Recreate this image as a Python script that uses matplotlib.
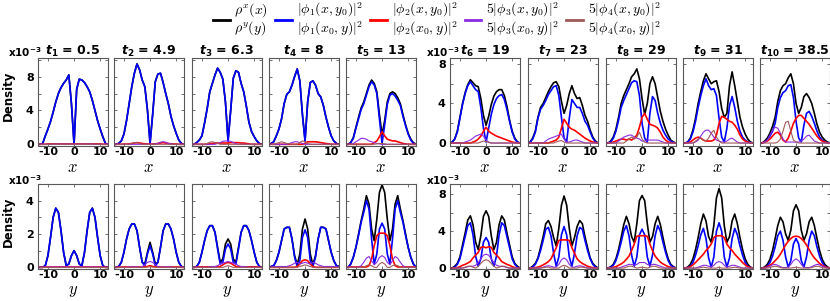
"""
Density profiles of the condensate along x and y at ten time instants,
with the contributions of the first four modes.
"""

import numpy as np
import matplotlib
matplotlib.use("Agg")
import matplotlib.pyplot as plt

plt.rcParams["mathtext.fontset"] = "cm"
plt.rcParams["font.family"] = "DejaVu Sans"


# Grid positions and time labels.
X_GRID = [-13, -12, -11, -10, -9, -8, -7, -6, -5, -4, -3, -2, -1, 0,
          1, 2, 3, 4, 5, 6, 7, 8, 9, 10, 11, 12, 13]
TIMES = ["0.5", "4.9", "6.3", "8", "13", "19", "23", "29", "31", "38.5"]

# Top row: profiles along x (units of 1e-3). Purple and brown are already x5.
RHO_X = [
    [0, 0.1, 1.0, 1.8, 2.7, 3.8, 5.0, 6.0, 6.7, 7.2, 7.6, 8.2, 4.8, 0.0, 6.5, 7.7, 7.6, 7.3, 6.8, 6.2, 5.2, 4.0, 2.8, 1.8, 0.9, 0.1, 0],
    [0, 0.1, 0.4, 1.2, 2.8, 4.8, 6.8, 8.4, 9.5, 8.8, 7.6, 6.8, 4.1, 0.2, 3.6, 7.4, 8.3, 8.4, 7.3, 6.0, 4.8, 3.3, 2.2, 1.3, 0.5, 0.1, 0],
    [0, 0.2, 0.5, 1.0, 2.5, 4.2, 6.2, 7.2, 8.2, 9.0, 8.5, 7.7, 5.0, 0.5, 4.0, 7.8, 8.7, 8.5, 7.2, 6.2, 4.5, 2.6, 1.5, 0.9, 0.4, 0.1, 0],
    [0.1, 0.3, 1.0, 1.8, 3.0, 4.8, 5.9, 6.2, 7.0, 8.0, 8.9, 7.5, 3.5, 0.5, 5.0, 7.3, 7.5, 7.0, 6.0, 5.6, 4.6, 3.2, 2.0, 1.0, 0.4, 0.1, 0],
    [0, 0.2, 0.8, 2.0, 3.2, 4.3, 5.0, 6.0, 7.0, 7.6, 7.2, 6.2, 3.5, 1.1, 2.8, 5.0, 6.0, 6.2, 6.0, 5.5, 4.8, 3.5, 2.3, 1.3, 0.6, 0.2, 0],
    [0.1, 0.4, 1.2, 2.6, 4.0, 5.1, 5.9, 6.4, 6.1, 5.8, 5.7, 4.5, 2.8, 1.8, 2.7, 3.9, 4.75, 5.2, 5.4, 5.4, 4.8, 3.7, 2.3, 1.2, 0.5, 0.1, 0],
    [0.1, 0.5, 1.2, 2.6, 3.6, 4.0, 4.6, 5.2, 5.7, 6.1, 6.2, 5.7, 4.2, 3.0, 3.8, 5.0, 5.8, 5.0, 4.5, 4.6, 3.8, 2.8, 2.2, 1.3, 0.6, 0.2, 0],
    [0, 0.2, 0.6, 1.4, 2.6, 4.0, 4.8, 5.4, 6.0, 6.7, 7.0, 7.5, 6.5, 4.5, 2.9, 4.0, 6.0, 6.7, 6.0, 4.6, 3.2, 2.2, 1.4, 0.8, 0.3, 0.1, 0],
    [0, 0.1, 0.5, 1.3, 2.5, 4.0, 5.2, 6.3, 7.0, 6.5, 6.0, 6.2, 6.3, 5.2, 3.5, 2.6, 3.0, 5.8, 7.2, 5.8, 4.2, 2.6, 1.6, 0.9, 0.4, 0.1, 0],
    [0, 0.2, 0.5, 1.0, 1.7, 2.6, 4.2, 5.3, 5.8, 6.0, 6.6, 7.0, 6.0, 4.0, 3.0, 3.6, 4.7, 5.0, 4.6, 4.0, 3.0, 1.9, 1.1, 0.6, 0.3, 0.1, 0],
]
PHI1_X = [
    [0, 0.1, 1.0, 1.8, 2.7, 3.8, 5.0, 6.0, 6.7, 7.2, 7.6, 8.2, 4.8, 0.0, 6.5, 7.7, 7.6, 7.3, 6.8, 6.2, 5.2, 4.0, 2.8, 1.8, 0.9, 0.1, 0],
    [0, 0.1, 0.4, 1.2, 2.8, 4.8, 6.8, 8.4, 9.5, 8.8, 7.6, 6.8, 4.0, 0.0, 3.5, 7.4, 8.3, 8.4, 7.3, 6.0, 4.8, 3.3, 2.2, 1.3, 0.5, 0.1, 0],
    [0, 0.2, 0.5, 1.0, 2.5, 4.2, 6.2, 7.2, 8.2, 9.0, 8.5, 7.7, 5.0, 0.3, 4.0, 7.8, 8.7, 8.5, 7.2, 6.2, 4.5, 2.6, 1.5, 0.9, 0.4, 0.1, 0],
    [0.1, 0.3, 1.0, 1.8, 3.0, 4.8, 5.9, 6.2, 7.0, 8.0, 8.9, 7.5, 3.5, 0.3, 5.0, 7.3, 7.5, 7.0, 6.0, 5.6, 4.6, 3.2, 2.0, 1.0, 0.4, 0.1, 0],
    [0, 0.2, 0.7, 1.9, 3.0, 4.1, 4.8, 5.8, 6.8, 7.4, 7.0, 6.0, 3.0, 0.1, 2.3, 4.7, 5.8, 6.0, 5.7, 5.2, 4.6, 3.3, 2.2, 1.2, 0.5, 0.1, 0],
    [0.1, 0.4, 1.1, 2.5, 3.9, 5.0, 5.8, 6.2, 5.8, 5.4, 5.2, 3.6, 1.5, 0.1, 1.5, 2.9, 3.9, 4.5, 4.8, 4.9, 4.4, 3.4, 2.2, 1.1, 0.4, 0.1, 0],
    [0.1, 0.4, 1.1, 2.5, 3.4, 3.8, 4.3, 4.9, 5.3, 5.7, 5.8, 4.8, 2.6, 0.5, 0.1, 2.5, 4.4, 4.0, 3.6, 3.6, 3.0, 2.2, 1.8, 1.1, 0.5, 0.1, 0],
    [0, 0.1, 0.5, 1.2, 2.3, 3.6, 4.3, 4.9, 5.5, 6.1, 6.3, 6.2, 4.8, 2.0, 0.5, 0.1, 3.0, 4.7, 4.3, 3.0, 2.0, 1.3, 0.8, 0.4, 0.2, 0.05, 0],
    [0, 0.1, 0.4, 1.1, 2.2, 3.6, 4.8, 5.8, 6.5, 5.8, 5.4, 5.5, 4.8, 2.5, 0.6, 0.1, 1.5, 3.8, 4.7, 3.6, 2.2, 1.2, 0.6, 0.3, 0.1, 0.05, 0],
    [0, 0.1, 0.3, 0.7, 1.2, 2.0, 3.6, 4.6, 5.1, 5.3, 5.8, 5.9, 4.6, 2.2, 0.5, 0.1, 1.8, 3.0, 3.2, 2.7, 2.0, 1.2, 0.6, 0.3, 0.1, 0.05, 0],
]
PHI2_X = [
    [0, 0, 0, 0.05, 0.05, 0.05, 0.05, 0.05, 0.05, 0.05, 0.05, 0.05, 0.05, 0.05, 0.05, 0.05, 0.05, 0.05, 0.05, 0.05, 0.05, 0.05, 0.05, 0.05, 0, 0, 0],
    [0, 0, 0, 0.03, 0.03, 0.05, 0.1, 0.15, 0.2, 0.15, 0.1, 0.05, 0.03, 0.03, 0.03, 0.05, 0.1, 0.15, 0.2, 0.15, 0.1, 0.05, 0.03, 0.03, 0, 0, 0],
    [0, 0, 0, 0, 0, 0, 0.05, 0.1, 0.15, 0.15, 0.15, 0.15, 0.15, 0.15, 0.2, 0.2, 0.2, 0.2, 0.15, 0.15, 0.1, 0.05, 0, 0, 0, 0, 0],
    [0, 0, 0, 0, 0, 0, 0, 0, 0, 0, 0, 0, 0, 0.1, 0.3, 0.3, 0.3, 0.3, 0.25, 0.2, 0.15, 0.1, 0.05, 0, 0, 0, 0],
    [0, 0, 0, 0, 0, 0, 0, 0, 0, 0, 0.2, 0.4, 0.9, 1.5, 1.0, 0.6, 0.5, 0.4, 0.4, 0.3, 0.2, 0.1, 0.05, 0, 0, 0, 0],
    [0, 0, 0, 0, 0, 0, 0, 0, 0.1, 0.2, 0.4, 0.7, 1.2, 1.6, 1.2, 1.0, 0.85, 0.7, 0.6, 0.5, 0.4, 0.3, 0.2, 0.1, 0.05, 0, 0],
    [0, 0, 0, 0, 0, 0, 0, 0, 0.1, 0.2, 0.3, 0.6, 1.5, 2.4, 2.0, 1.6, 1.4, 1.3, 1.1, 0.9, 0.7, 0.5, 0.35, 0.2, 0.1, 0.05, 0],
    [0, 0, 0.1, 0.2, 0.3, 0.4, 0.4, 0.3, 0.4, 0.3, 0.5, 0.8, 1.6, 2.6, 3.0, 2.4, 1.9, 1.8, 1.7, 1.5, 1.1, 0.6, 0.3, 0.1, 0.05, 0, 0],
    [0, 0, 0.1, 0.3, 0.5, 0.6, 0.5, 0.3, 0.2, 0.2, 0.2, 0.3, 0.8, 2.0, 2.7, 2.6, 2.4, 2.2, 2.1, 1.8, 1.4, 0.8, 0.4, 0.2, 0.1, 0, 0],
    [0, 0.1, 0.2, 0.4, 0.7, 1.0, 1.1, 0.8, 0.3, 0.1, 0.5, 1.2, 2.0, 2.5, 2.8, 2.8, 2.5, 2.2, 1.9, 1.5, 1.1, 0.7, 0.4, 0.2, 0.1, 0, 0],
]
PHI3_X = [
    [0, 0, 0, 0, 0, 0, 0.03, 0.03, 0.03, 0.03, 0.03, 0.03, 0.03, 0.03, 0.03, 0.03, 0.03, 0.03, 0.03, 0.03, 0.03, 0, 0, 0, 0, 0, 0],
    [0, 0, 0, 0, 0, 0, 0, 0, 0, 0, 0, 0, 0.02, 0.02, 0.02, 0.05, 0.1, 0.25, 0.3, 0.25, 0.1, 0.05, 0, 0, 0, 0, 0],
    [0, 0, 0, 0, 0, 0, 0, 0, 0, 0.1, 0.2, 0.35, 0.4, 0.4, 0.35, 0.2, 0.1, 0, 0, 0, 0, 0, 0, 0, 0, 0, 0],
    [0, 0, 0, 0, 0, 0, 0, 0.1, 0.2, 0.3, 0.3, 0.2, 0.1, 0, 0, 0, 0, 0, 0, 0, 0, 0, 0, 0, 0, 0, 0],
    [0, 0, 0.1, 0.3, 0.5, 0.7, 0.7, 0.6, 0.4, 0.3, 0.2, 0.1, 0.05, 0, 0, 0, 0, 0, 0, 0, 0, 0, 0, 0, 0, 0, 0],
    [0, 0, 0, 0, 0, 0.1, 0.2, 0.3, 0.5, 0.7, 0.8, 0.9, 0.7, 0.3, 0.1, 0, 0, 0, 0, 0, 0, 0, 0, 0, 0, 0, 0],
    [0, 0, 0, 0, 0, 0, 0.2, 0.4, 0.5, 0.6, 0.7, 0.8, 0.9, 0.4, 0.1, 0.1, 0.2, 0.3, 0.3, 0.2, 0.1, 0, 0, 0, 0, 0, 0],
    [0, 0, 0, 0, 0.2, 0.4, 0.6, 0.7, 0.8, 0.8, 0.6, 0.5, 0.4, 0.2, 0.2, 0.3, 0.3, 0.3, 0.3, 0.3, 0.2, 0.1, 0, 0, 0, 0, 0],
    [0, 0, 0, 0, 0.1, 0.3, 0.7, 1.1, 1.3, 1.3, 1.0, 0.6, 0.3, 0.2, 0.1, 0.1, 0.2, 0.4, 0.5, 0.3, 0.1, 0, 0, 0, 0, 0, 0],
    [0, 0.1, 0.3, 0.8, 1.3, 1.6, 1.5, 1.0, 0.4, 0.1, 0.1, 0.1, 0.1, 0.1, 0.1, 0.2, 0.4, 0.7, 0.8, 0.5, 0.2, 0.1, 0, 0, 0, 0, 0],
]
PHI4_X = [
    [0, 0, 0, 0, 0.02, 0.02, 0.02, 0.02, 0.02, 0.02, 0.02, 0.02, 0.02, 0.02, 0.02, 0.02, 0.02, 0.02, 0.02, 0.02, 0.02, 0.02, 0.02, 0, 0, 0, 0],
    [0, 0, 0, 0, 0, 0, 0.1, 0.2, 0.2, 0.1, 0, 0, 0, 0, 0, 0, 0, 0, 0, 0, 0, 0, 0, 0, 0, 0, 0],
    [0, 0, 0, 0, 0, 0.1, 0.25, 0.3, 0.2, 0.1, 0, 0, 0, 0, 0, 0, 0, 0, 0, 0, 0, 0, 0, 0, 0, 0, 0],
    [0, 0, 0.1, 0.2, 0.3, 0.2, 0.1, 0.05, 0, 0, 0, 0.2, 0.4, 0.3, 0.1, 0, 0, 0, 0, 0, 0, 0, 0, 0, 0, 0, 0],
    [0, 0, 0, 0, 0, 0, 0, 0, 0, 0, 0, 0.05, 0.1, 0.1, 0.05, 0, 0, 0, 0, 0, 0, 0, 0, 0, 0, 0, 0],
    [0, 0, 0, 0, 0, 0, 0, 0, 0, 0, 0, 0.1, 0.2, 0.15, 0.05, 0, 0, 0, 0, 0, 0, 0, 0, 0, 0, 0, 0],
    [0, 0, 0, 0, 0, 0, 0, 0, 0, 0, 0.1, 0.2, 0.25, 0.1, 0, 0, 0, 0, 0, 0, 0, 0, 0, 0, 0, 0, 0],
    [0, 0, 0, 0, 0, 0, 0, 0.2, 0.4, 0.6, 0.4, 0.6, 1.1, 0.4, 0.1, 0, 0, 0, 0, 0, 0, 0, 0, 0, 0, 0, 0],
    [0, 0, 0, 0, 0.2, 0.4, 0.5, 0.3, 0.2, 0.5, 1.0, 1.3, 0.6, 0.2, 0, 0, 0, 0, 0, 0, 0, 0, 0, 0, 0, 0, 0],
    [0, 0, 0, 0, 0, 0, 0.1, 0.4, 1.2, 2.1, 2.2, 1.2, 0.3, 0.1, 0, 0, 0, 0, 0, 0, 0, 0, 0, 0, 0, 0, 0],
]

# Bottom row: profiles along y (units of 1e-3). Purple and brown are already x5.
RHO_Y = [
    [0, 0, 0.1, 0.7, 1.8, 3.0, 3.55, 3.3, 2.2, 0.9, 0.1, 0.2, 0.7, 1.0, 0.7, 0.2, 0.1, 0.9, 2.2, 3.3, 3.55, 3.0, 1.8, 0.7, 0.1, 0, 0],
    [0, 0.05, 0.3, 0.9, 1.7, 2.3, 2.6, 2.6, 2.2, 1.2, 0.3, 0.2, 0.9, 1.5, 0.9, 0.2, 0.3, 1.2, 2.2, 2.6, 2.6, 2.3, 1.7, 0.9, 0.3, 0.05, 0],
    [0, 0.05, 0.3, 0.9, 1.6, 2.2, 2.5, 2.5, 2.1, 1.2, 0.3, 0.5, 1.4, 1.7, 1.4, 0.5, 0.3, 1.2, 2.1, 2.5, 2.5, 2.2, 1.6, 0.9, 0.3, 0.05, 0],
    [0.05, 0.1, 0.4, 0.9, 1.6, 2.3, 2.4, 2.4, 1.7, 0.7, 0.15, 0.8, 2.3, 2.9, 2.3, 0.8, 0.15, 0.7, 1.7, 2.4, 2.4, 2.3, 1.6, 0.9, 0.4, 0.1, 0.05],
    [0, 0.2, 0.6, 1.2, 2.0, 2.8, 3.5, 4.3, 3.8, 2.3, 1.6, 2.9, 4.5, 4.95, 4.5, 2.9, 1.6, 2.3, 3.8, 4.3, 3.5, 2.8, 2.0, 1.2, 0.6, 0.2, 0],
    [0, 0.2, 0.5, 1.2, 2.5, 3.8, 5.2, 5.65, 4.7, 2.8, 2.0, 3.5, 5.6, 6.2, 5.6, 3.5, 2.0, 2.8, 4.7, 5.65, 5.2, 3.8, 2.5, 1.2, 0.5, 0.2, 0],
    [0, 0.2, 0.5, 1.1, 2.2, 3.4, 4.8, 5.15, 4.5, 3.3, 2.4, 4.3, 6.8, 7.8, 6.8, 4.3, 2.4, 3.3, 4.5, 5.15, 4.8, 3.4, 2.2, 1.1, 0.5, 0.2, 0],
    [0, 0.15, 0.4, 1.0, 2.0, 3.3, 4.7, 5.6, 4.8, 3.4, 2.8, 4.8, 7.3, 7.85, 7.3, 4.8, 2.8, 3.4, 4.8, 5.6, 4.7, 3.3, 2.0, 1.0, 0.4, 0.15, 0],
    [0, 0.1, 0.4, 1.0, 2.0, 3.3, 4.8, 5.85, 5.1, 3.4, 2.8, 4.6, 7.6, 8.6, 7.6, 4.6, 2.8, 3.4, 5.1, 5.85, 4.8, 3.3, 2.0, 1.0, 0.4, 0.1, 0],
    [0, 0.12, 0.4, 0.95, 1.9, 3.2, 4.6, 5.5, 5.0, 3.7, 3.0, 4.1, 6.2, 6.85, 6.2, 4.1, 3.0, 3.7, 5.0, 5.5, 4.6, 3.2, 1.9, 0.95, 0.4, 0.12, 0],
]
PHI1_Y = [
    [0, 0, 0.1, 0.7, 1.8, 3.0, 3.55, 3.3, 2.2, 0.9, 0.1, 0.2, 0.7, 1.0, 0.7, 0.2, 0.1, 0.9, 2.2, 3.3, 3.55, 3.0, 1.8, 0.7, 0.1, 0, 0],
    [0, 0.05, 0.3, 0.9, 1.7, 2.3, 2.6, 2.6, 2.2, 1.2, 0.3, 0.1, 0.8, 1.3, 0.8, 0.1, 0.3, 1.2, 2.2, 2.6, 2.6, 2.3, 1.7, 0.9, 0.3, 0.05, 0],
    [0, 0.05, 0.3, 0.9, 1.6, 2.2, 2.5, 2.5, 2.1, 1.1, 0.2, 0.3, 1.1, 1.4, 1.1, 0.3, 0.2, 1.1, 2.1, 2.5, 2.5, 2.2, 1.6, 0.9, 0.3, 0.05, 0],
    [0.05, 0.1, 0.4, 0.9, 1.6, 2.3, 2.4, 2.4, 1.7, 0.6, 0.05, 0.4, 1.8, 2.25, 1.8, 0.4, 0.05, 0.6, 1.7, 2.4, 2.4, 2.3, 1.6, 0.9, 0.4, 0.1, 0.05],
    [0, 0.2, 0.6, 1.2, 1.9, 2.7, 3.3, 4.0, 3.5, 1.7, 0.2, 0.8, 2.3, 2.65, 2.3, 0.8, 0.2, 1.7, 3.5, 4.0, 3.3, 2.7, 1.9, 1.2, 0.6, 0.2, 0],
    [0, 0.1, 0.4, 1.0, 2.2, 3.4, 4.6, 4.9, 3.6, 1.3, 0.2, 1.0, 2.8, 3.3, 2.8, 1.0, 0.2, 1.3, 3.6, 4.9, 4.6, 3.4, 2.2, 1.0, 0.4, 0.1, 0],
    [0, 0.1, 0.4, 1.0, 1.9, 3.0, 4.2, 4.4, 3.5, 1.6, 0.2, 1.2, 3.6, 4.5, 3.6, 1.2, 0.2, 1.6, 3.5, 4.4, 4.2, 3.0, 1.9, 1.0, 0.4, 0.1, 0],
    [0, 0.1, 0.3, 0.8, 1.7, 2.8, 4.0, 4.6, 3.5, 1.4, 0.2, 1.2, 3.6, 4.2, 3.6, 1.2, 0.2, 1.4, 3.5, 4.6, 4.0, 2.8, 1.7, 0.8, 0.3, 0.1, 0],
    [0, 0.05, 0.2, 0.6, 1.4, 2.4, 3.6, 4.3, 3.2, 1.1, 0.1, 1.2, 4.0, 4.9, 4.0, 1.2, 0.1, 1.1, 3.2, 4.3, 3.6, 2.4, 1.4, 0.6, 0.2, 0.05, 0],
    [0, 0.05, 0.2, 0.6, 1.3, 2.3, 3.5, 4.0, 3.0, 1.2, 0.1, 0.8, 2.6, 3.2, 2.6, 0.8, 0.1, 1.2, 3.0, 4.0, 3.5, 2.3, 1.3, 0.6, 0.2, 0.05, 0],
]
PHI2_Y = [
    [0, 0, 0.02, 0.02, 0.02, 0.02, 0.02, 0.02, 0.02, 0.02, 0.02, 0.02, 0.02, 0.02, 0.02, 0.02, 0.02, 0.02, 0.02, 0.02, 0.02, 0.02, 0.02, 0.02, 0.02, 0, 0],
    [0, 0, 0.02, 0.02, 0.02, 0.02, 0.02, 0.02, 0.02, 0.02, 0.02, 0.03, 0.05, 0.1, 0.05, 0.03, 0.02, 0.02, 0.02, 0.02, 0.02, 0.02, 0.02, 0.02, 0.02, 0, 0],
    [0, 0, 0.03, 0.03, 0.03, 0.03, 0.03, 0.03, 0.03, 0.03, 0.05, 0.15, 0.25, 0.3, 0.25, 0.15, 0.05, 0.03, 0.03, 0.03, 0.03, 0.03, 0.03, 0.03, 0.03, 0, 0],
    [0, 0, 0, 0, 0, 0, 0, 0, 0, 0, 0.05, 0.2, 0.4, 0.45, 0.4, 0.2, 0.05, 0, 0, 0, 0, 0, 0, 0, 0, 0, 0],
    [0, 0.02, 0.02, 0.02, 0.02, 0.02, 0.02, 0.02, 0.1, 0.5, 1.3, 1.9, 2.05, 2.05, 2.05, 1.9, 1.3, 0.5, 0.1, 0.02, 0.02, 0.02, 0.02, 0.02, 0.02, 0.02, 0],
    [0, 0.02, 0.05, 0.15, 0.3, 0.4, 0.55, 0.7, 1.1, 1.4, 1.7, 2.25, 2.3, 2.2, 2.3, 2.25, 1.7, 1.4, 1.1, 0.7, 0.55, 0.4, 0.3, 0.15, 0.05, 0.02, 0],
    [0, 0.02, 0.05, 0.1, 0.2, 0.35, 0.5, 0.7, 1.0, 1.6, 2.2, 3.0, 3.05, 3.05, 3.05, 3.0, 2.2, 1.6, 1.0, 0.7, 0.5, 0.35, 0.2, 0.1, 0.05, 0.02, 0],
    [0, 0.03, 0.08, 0.15, 0.3, 0.45, 0.65, 0.95, 1.3, 1.9, 2.6, 3.45, 3.5, 3.5, 3.5, 3.45, 2.6, 1.9, 1.3, 0.95, 0.65, 0.45, 0.3, 0.15, 0.08, 0.03, 0],
    [0, 0.05, 0.15, 0.35, 0.6, 0.9, 1.2, 1.5, 1.9, 2.2, 2.6, 3.3, 3.5, 3.5, 3.5, 3.3, 2.6, 2.2, 1.9, 1.5, 1.2, 0.9, 0.6, 0.35, 0.15, 0.05, 0],
    [0, 0.05, 0.15, 0.3, 0.5, 0.8, 1.1, 1.5, 2.0, 2.5, 2.9, 3.2, 3.4, 3.45, 3.4, 3.2, 2.9, 2.5, 2.0, 1.5, 1.1, 0.8, 0.5, 0.3, 0.15, 0.05, 0],
]
PHI3_Y = [
    [0, 0, 0.02, 0.02, 0.02, 0.02, 0.02, 0.02, 0.02, 0.02, 0.02, 0.02, 0.02, 0.02, 0.02, 0.02, 0.02, 0.02, 0.02, 0.02, 0.02, 0.02, 0.02, 0.02, 0.02, 0, 0],
    [0, 0, 0, 0, 0, 0.02, 0.03, 0.03, 0.02, 0, 0.05, 0.15, 0.3, 0.35, 0.3, 0.15, 0.05, 0, 0.02, 0.03, 0.03, 0.02, 0, 0, 0, 0, 0],
    [0, 0, 0, 0, 0, 0, 0.03, 0.05, 0.05, 0.1, 0.2, 0.25, 0.3, 0.35, 0.3, 0.25, 0.2, 0.1, 0.05, 0.05, 0.03, 0, 0, 0, 0, 0, 0],
    [0, 0.05, 0.05, 0.05, 0.05, 0.05, 0.05, 0.1, 0.15, 0.25, 0.3, 0.2, 0.25, 0.3, 0.25, 0.2, 0.3, 0.25, 0.15, 0.1, 0.05, 0.05, 0.05, 0.05, 0.05, 0.05, 0],
    [0, 0, 0, 0, 0, 0.1, 0.3, 0.55, 0.65, 0.4, 0.15, 0.3, 0.6, 0.7, 0.6, 0.3, 0.15, 0.4, 0.65, 0.55, 0.3, 0.1, 0, 0, 0, 0, 0],
    [0, 0, 0, 0, 0, 0.05, 0.15, 0.2, 0.2, 0.3, 0.6, 1.0, 1.4, 1.5, 1.4, 1.0, 0.6, 0.3, 0.2, 0.2, 0.15, 0.05, 0, 0, 0, 0, 0],
    [0, 0, 0, 0, 0, 0.1, 0.2, 0.25, 0.2, 0.1, 0.1, 0.4, 0.9, 1.1, 0.9, 0.4, 0.1, 0.1, 0.2, 0.25, 0.2, 0.1, 0, 0, 0, 0, 0],
    [0, 0, 0, 0, 0, 0.1, 0.2, 0.3, 0.4, 0.4, 0.3, 0.4, 0.6, 0.6, 0.6, 0.4, 0.3, 0.4, 0.4, 0.3, 0.2, 0.1, 0, 0, 0, 0, 0],
    [0, 0, 0, 0, 0, 0.1, 0.2, 0.3, 0.3, 0.2, 0.1, 0.3, 0.6, 0.7, 0.6, 0.3, 0.1, 0.2, 0.3, 0.3, 0.2, 0.1, 0, 0, 0, 0, 0],
    [0, 0, 0.1, 0.2, 0.35, 0.4, 0.3, 0.15, 0.05, 0.05, 0.1, 0.4, 0.8, 1.0, 0.8, 0.4, 0.1, 0.05, 0.05, 0.15, 0.3, 0.4, 0.35, 0.2, 0.1, 0, 0],
]
PHI4_Y = [
    [0, 0, 0, 0, 0, 0, 0, 0, 0, 0, 0, 0, 0, 0, 0, 0, 0, 0, 0, 0, 0, 0, 0, 0, 0, 0, 0],
    [0, 0, 0, 0, 0, 0, 0, 0, 0, 0, 0, 0, 0.02, 0.03, 0.02, 0, 0, 0, 0, 0, 0, 0, 0, 0, 0, 0, 0],
    [0, 0, 0, 0, 0, 0, 0, 0, 0, 0, 0, 0, 0.05, 0.1, 0.05, 0, 0, 0, 0, 0, 0, 0, 0, 0, 0, 0, 0],
    [0, 0, 0, 0, 0, 0, 0, 0, 0, 0, 0, 0.05, 0.1, 0.15, 0.1, 0.05, 0, 0, 0, 0, 0, 0, 0, 0, 0, 0, 0],
    [0, 0, 0, 0, 0, 0, 0, 0.1, 0.15, 0.1, 0, 0, 0.2, 0.3, 0.2, 0, 0, 0.1, 0.15, 0.1, 0, 0, 0, 0, 0, 0, 0],
    [0, 0, 0, 0, 0, 0.1, 0.2, 0.2, 0.1, 0, 0.2, 0.5, 0.8, 0.9, 0.8, 0.5, 0.2, 0, 0.1, 0.2, 0.2, 0.1, 0, 0, 0, 0, 0],
    [0, 0, 0, 0, 0, 0.05, 0.1, 0.1, 0, 0, 0, 0, 0.2, 0.3, 0.2, 0, 0, 0, 0, 0.1, 0.1, 0.05, 0, 0, 0, 0, 0],
    [0, 0, 0, 0, 0, 0, 0, 0.1, 0.2, 0.2, 0.1, 0, 0.05, 0.1, 0.05, 0, 0.1, 0.2, 0.2, 0.1, 0, 0, 0, 0, 0, 0, 0],
    [0, 0, 0, 0, 0, 0, 0.05, 0.1, 0.05, 0, 0, 0, 0, 0.1, 0, 0, 0, 0, 0.05, 0.1, 0.05, 0, 0, 0, 0, 0, 0],
    [0, 0, 0, 0.05, 0.15, 0.2, 0.15, 0.05, 0, 0, 0, 0, 0.05, 0.1, 0.05, 0, 0, 0, 0, 0.05, 0.15, 0.2, 0.15, 0.05, 0, 0, 0],
]

LEGEND_LABELS = [
    r"$\rho^x(x)$" "\n" r"$\rho^y(y)$",
    r"$|\phi_1(x,y_0)|^2$" "\n" r"$|\phi_1(x_0,y)|^2$",
    r"$|\phi_2(x,y_0)|^2$" "\n" r"$|\phi_2(x_0,y)|^2$",
    r"$5|\phi_3(x,y_0)|^2$" "\n" r"$5|\phi_3(x_0,y)|^2$",
    r"$5|\phi_4(x,y_0)|^2$" "\n" r"$5|\phi_4(x_0,y)|^2$",
]


# Styles of the five curves.
COLORS = ["black", "#0000ff", "#ff0000", "#8a2be2", "#a05a5a"]
WIDTHS = [1.2, 1.2, 1.2, 0.8, 0.8]

# Panel layout in pixels of the 830x301 figure.
W, H = 830.0, 301.0
COL_LEFT = [38, 114, 192, 269, 346, 450, 528, 606, 683, 760]
PANEL_W = 69.5
ROWS = {"top": (58, 146), "bottom": (184, 269)}
YSET = {
    ("top", 0): ((-0.2, 10.2), [0, 2, 4, 6, 8, 10], ["0", "", "4", "", "8", ""]),
    ("top", 1): ((-0.3, 8.6), [0, 2, 4, 6, 8], ["0", "", "4", "", "8"]),
    ("bottom", 0): ((-0.1, 5.0), [0, 1, 2, 3, 4], ["0", "", "2", "", "4"]),
    ("bottom", 1): ((-0.1, 9.1), [0, 2, 4, 6, 8], ["0", "", "4", "", "8"]),
}
SPINE = "0.35"

fig = plt.figure(figsize=(8.3, 3.01), dpi=100)
x = np.array(X_GRID)
handles = None

for row, series, xlab in [("top", [RHO_X, PHI1_X, PHI2_X, PHI3_X, PHI4_X], r"$x$"),
                          ("bottom", [RHO_Y, PHI1_Y, PHI2_Y, PHI3_Y, PHI4_Y], r"$y$")]:
    top, bottom = ROWS[row]
    for i in range(10):
        group = 0 if i < 5 else 1
        ax = fig.add_axes([COL_LEFT[i] / W, 1 - bottom / H, PANEL_W / W, (bottom - top) / H])
        lines = []
        for k in range(5):
            ln, = ax.plot(x, np.array(series[k][i]), color=COLORS[k], lw=WIDTHS[k])
            lines.append(ln)
        if handles is None:
            handles = lines

        lim, ticks, labels = YSET[(row, group)]
        ax.set_xlim(-13.8, 12.8)
        ax.set_ylim(*lim)
        ax.set_xticks([-10, 0, 10])
        ax.set_xticklabels(["-10", "0", "10"], fontweight="bold", fontsize=8)
        ax.set_yticks(ticks)
        if i in (0, 5):
            ax.set_yticklabels(labels, fontweight="bold", fontsize=8)
        else:
            ax.set_yticklabels([])
        ax.tick_params(direction="in", top=True, right=True, length=2.5, width=0.6,
                       color=SPINE, pad=0.8)
        ax.tick_params(axis="y", pad=3)
        for s in ax.spines.values():
            s.set_color(SPINE)
            s.set_linewidth(0.8)
        ax.set_xlabel(xlab, fontsize=12, labelpad=0.5)

        if row == "top":
            ax.set_title(r"$\mathbfit{t}_{\mathbf{%d}}$ = %s" % (i + 1, TIMES[i]),
                         fontsize=9, fontweight="bold", pad=2,
                         math_fontfamily="dejavusans")

# Scale factors and axis names.
for xr in (42, 460):
    fig.text(xr / W, 1 - 52 / H, r"x10$^{\mathbf{-3}}$", ha="right", va="center",
             fontsize=7.5, fontweight="bold", math_fontfamily="dejavusans")
    fig.text(xr / W, 1 - 180 / H, r"x10$^{\mathbf{-3}}$", ha="right", va="center",
             fontsize=7.5, fontweight="bold", math_fontfamily="dejavusans")
fig.text(8 / W, 1 - 96 / H, "Density", rotation=90, ha="center", va="center",
         fontsize=8.5, fontweight="bold")
fig.text(8 / W, 1 - 222 / H, "Density", rotation=90, ha="center", va="center",
         fontsize=8.5, fontweight="bold")

leg = fig.legend(handles, LEGEND_LABELS, loc="upper center", bbox_to_anchor=(437 / W, 1.015),
                 ncol=5, frameon=False, fontsize=10, handlelength=1.2,
                 handletextpad=0.35, columnspacing=0.5, borderaxespad=0)
for ln in leg.get_lines():
    ln.set_linewidth(2)
for t in leg.get_texts():
    t.set_multialignment("left")
    t.set_linespacing(1.0)

fig.savefig("out.png", dpi=100)
